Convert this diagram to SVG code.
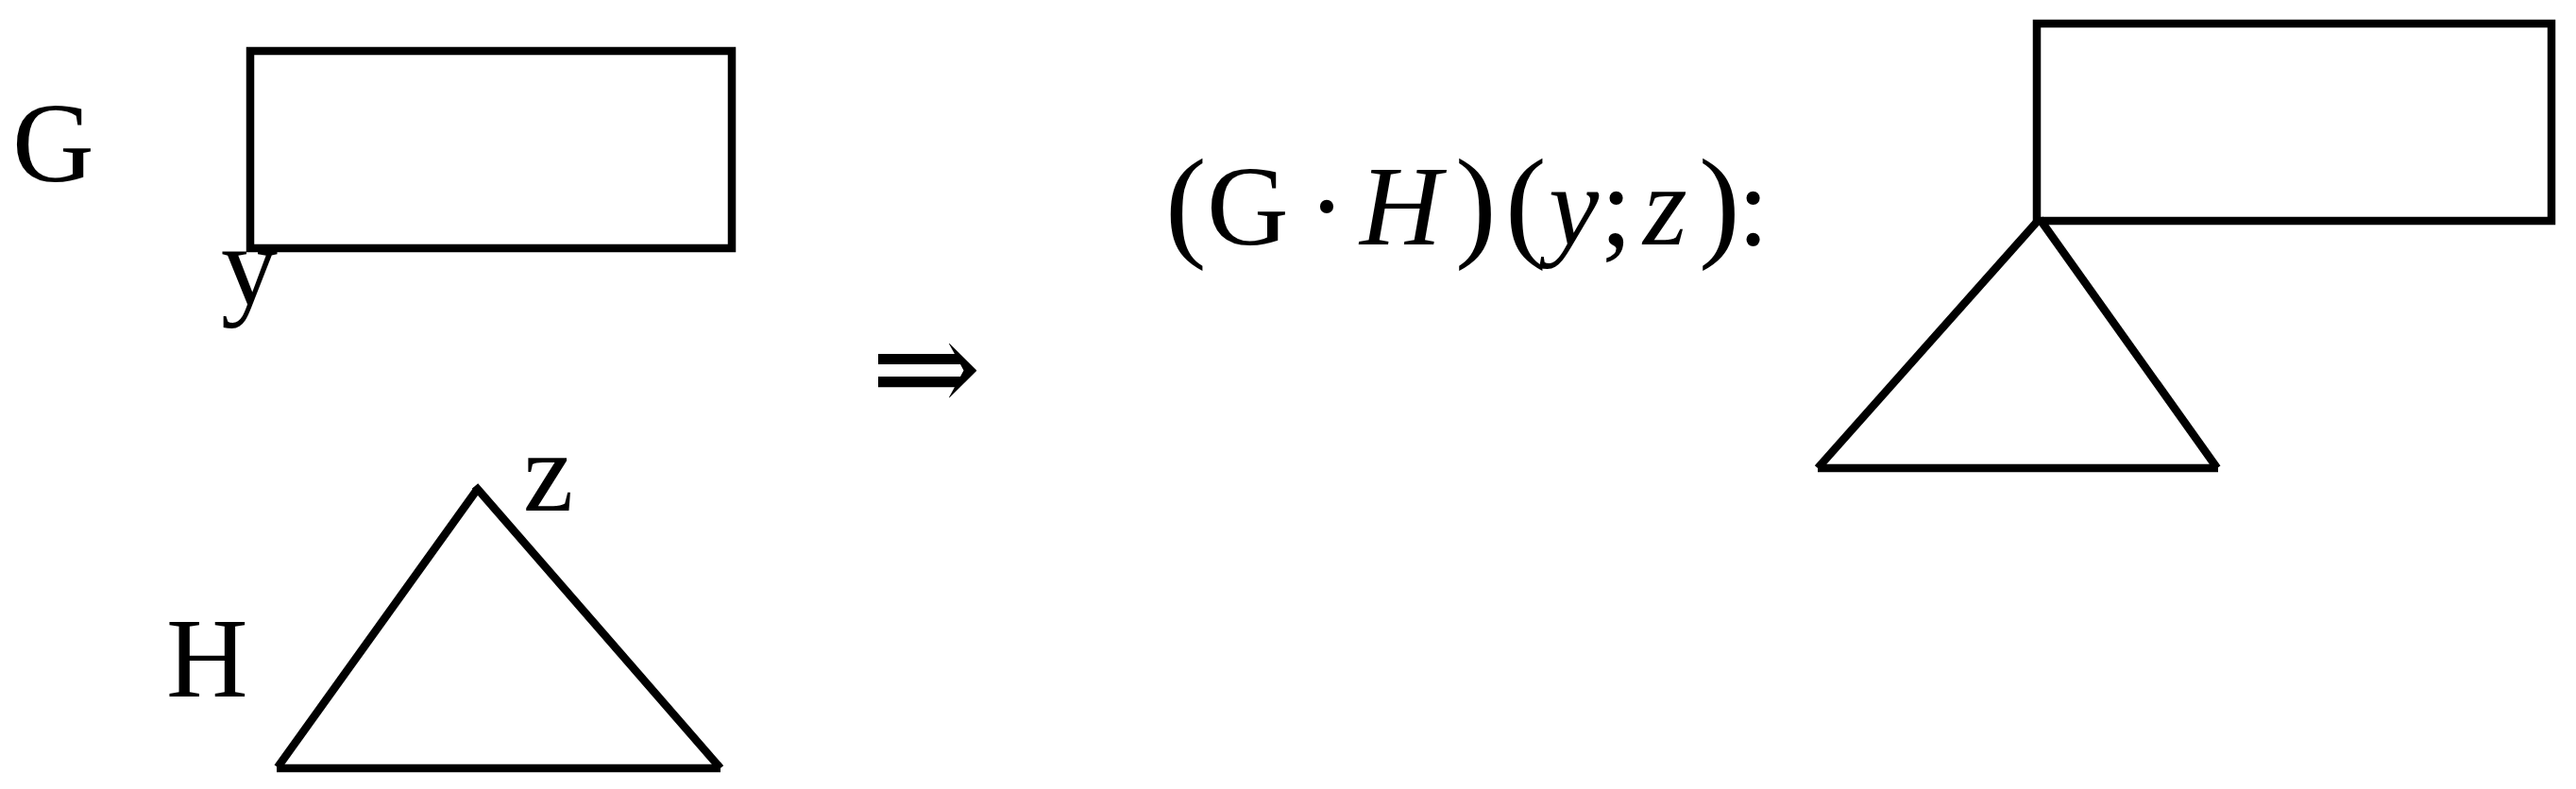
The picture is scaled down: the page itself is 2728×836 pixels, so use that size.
<svg xmlns="http://www.w3.org/2000/svg" width="2728" height="836" viewBox="0 0 2728 836">
<style>
.bg{fill:#fff}
.box{fill:none;stroke:#000;stroke-width:8.5}
.edge{fill:none;stroke:#000;stroke-width:8.5;stroke-linecap:butt}
.base{fill:none;stroke:#000;stroke-width:8.5}
.t{font-family:"Liberation Serif","Times New Roman",serif;font-size:120px;fill:#000}
.it{font-style:italic}
.paren{font-size:131px}
.arr{font-family:"DejaVu Serif",serif;font-size:140px;fill:#000}
</style>
<rect class="bg" x="0" y="0" width="2728" height="836"/>
<g id="G">
  <rect class="box" x="265" y="54" width="510" height="209"/>
  <text class="t" x="13" y="192">G</text>
  <text class="t" x="234" y="322">y</text>
</g>
<g id="H">
  <line class="edge" x1="505" y1="519" x2="294" y2="813"/>
  <line class="edge" x1="503" y1="515" x2="763" y2="814"/>
  <line class="base" x1="293" y1="814" x2="763" y2="814"/>
  <text class="t" x="176" y="738">H</text>
  <text class="t" x="554" y="541">z</text>
</g>
<g id="implies">
  <text class="arr" x="922" y="438">⇒</text>
</g>
<g id="formula">
  <text class="t" y="259"><tspan class="paren" x="1234">(</tspan><tspan x="1278">G</tspan><tspan x="1385">·</tspan><tspan class="it" x="1440">H</tspan><tspan class="paren" x="1541">)</tspan><tspan class="paren" x="1594">(</tspan><tspan class="it" x="1640">y</tspan><tspan x="1695">;</tspan><tspan class="it" x="1740">z</tspan><tspan class="paren" x="1799">)</tspan><tspan x="1840">:</tspan></text>
</g>
<g id="GH">
  <rect class="box" x="2157" y="25" width="545" height="209"/>
  <line class="edge" x1="2158" y1="234" x2="1925" y2="496"/>
  <line class="edge" x1="2160" y1="232" x2="2348" y2="496"/>
  <line class="base" x1="1925" y1="496" x2="2349" y2="496"/>
</g>
</svg>
